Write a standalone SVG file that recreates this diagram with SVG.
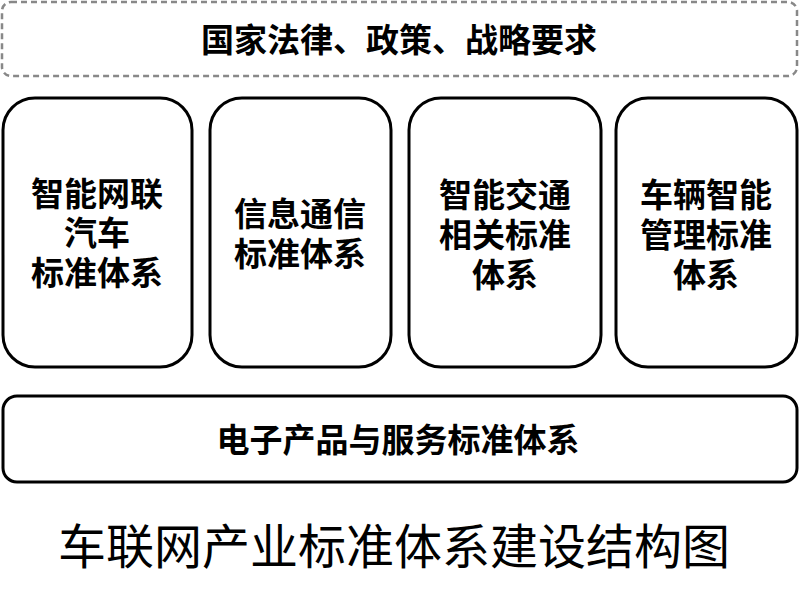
<svg xmlns="http://www.w3.org/2000/svg" width="800" height="592" viewBox="0 0 800 592">
<style>
.t{font-family:"Noto Sans CJK SC","Noto Sans",sans-serif;font-weight:bold;font-size:33px;fill:#000;text-anchor:middle}
.box{fill:#fff;stroke:#000;stroke-width:3}
.dash{fill:#fff;stroke:#888;stroke-width:2.5;stroke-dasharray:6 4}
.cap{font-family:"Noto Sans CJK SC","Noto Sans",sans-serif;font-size:48px;fill:#000;text-anchor:middle}
</style>
<rect width="800" height="592" fill="#fff"/>
<g id="policy">
<rect class="dash" x="2" y="2" width="795" height="74" rx="9"/>
<text class="t" x="399" y="52">国家法律、政策、战略要求</text>
</g>
<g id="icv">
<rect class="box" x="3" y="98" width="189" height="269" rx="32"/>
<text class="t" x="97" y="206">智能网联</text>
<text class="t" x="97" y="245">汽车</text>
<text class="t" x="97" y="285">标准体系</text>
</g>
<g id="info">
<rect class="box" x="210" y="98" width="181" height="269" rx="32"/>
<text class="t" x="300" y="226">信息通信</text>
<text class="t" x="300" y="266">标准体系</text>
</g>
<g id="its">
<rect class="box" x="409" y="98" width="192" height="269" rx="32"/>
<text class="t" x="505" y="207">智能交通</text>
<text class="t" x="505" y="247">相关标准</text>
<text class="t" x="505" y="287">体系</text>
</g>
<g id="vehicle">
<rect class="box" x="616" y="98" width="181" height="269" rx="32"/>
<text class="t" x="706" y="207">车辆智能</text>
<text class="t" x="706" y="247">管理标准</text>
<text class="t" x="706" y="287">体系</text>
</g>
<g id="electronics">
<rect class="box" x="3" y="396" width="794" height="86" rx="14"/>
<text class="t" x="398" y="452">电子产品与服务标准体系</text>
</g>
<g id="connectors"></g>
<text class="cap" x="394" y="564">车联网产业标准体系建设结构图</text>
</svg>
